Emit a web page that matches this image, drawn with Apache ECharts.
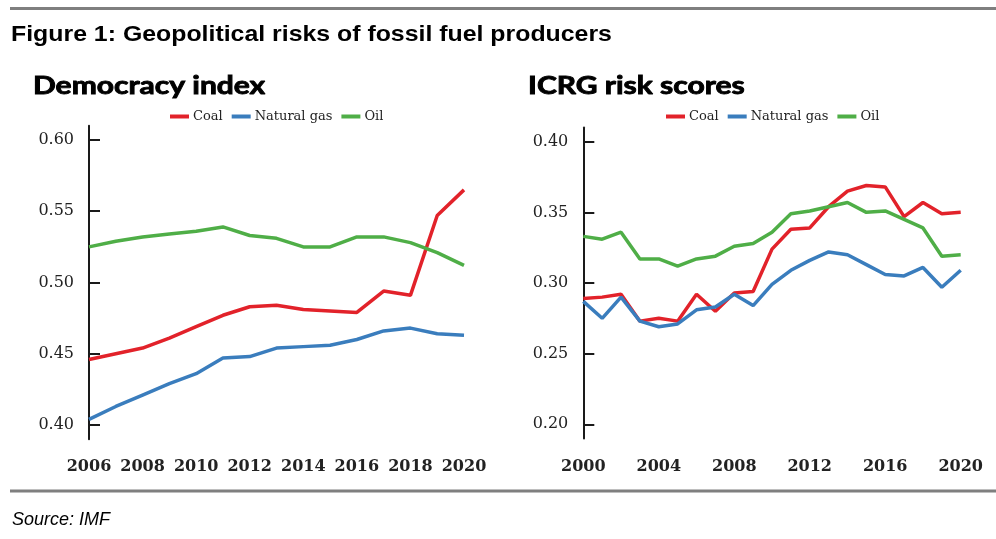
<!DOCTYPE html>
<html>
<head>
<meta charset="utf-8">
<script src="https://cdn.jsdelivr.net/npm/echarts@6/dist/echarts.min.js"></script>
<style>
html,body{margin:0;padding:0;background:#fff;}
#chart{width:996px;height:539px;}
</style>
</head>
<body>
<div id="chart"></div>
<script>
// ---- Democracy index (left) ----
var demYears = [2006,2007,2008,2009,2010,2011,2012,2013,2014,2015,2016,2017,2018,2019,2020];
var demCoal  = [0.446,0.450,0.454,0.461,0.469,0.477,0.483,0.484,0.481,0.480,0.479,0.494,0.491,0.547,0.565];
var demGas   = [0.404,0.413,0.421,0.429,0.436,0.447,0.448,0.454,0.455,0.456,0.460,0.466,0.468,0.464,0.463];
var demOil   = [0.525,0.529,0.532,0.534,0.536,0.539,0.533,0.531,0.525,0.525,0.532,0.532,0.528,0.521,0.512];
var demTicks = [0.40,0.45,0.50,0.55,0.60];

// ---- ICRG risk scores (right) ----
var icrgYears = [2000,2001,2002,2003,2004,2005,2006,2007,2008,2009,2010,2011,2012,2013,2014,2015,2016,2017,2018,2019,2020];
var icrgCoal  = [0.289,0.290,0.292,0.273,0.275,0.273,0.292,0.280,0.293,0.294,0.324,0.338,0.339,0.354,0.365,0.369,0.368,0.347,0.357,0.349,0.350];
var icrgGas   = [0.287,0.275,0.290,0.273,0.269,0.271,0.281,0.283,0.292,0.284,0.299,0.309,0.316,0.322,0.320,0.313,0.306,0.305,0.311,0.297,0.309];
var icrgOil   = [0.333,0.331,0.336,0.317,0.317,0.312,0.317,0.319,0.326,0.328,0.336,0.349,0.351,0.354,0.357,0.350,0.351,0.345,0.339,0.319,0.320];
var icrgTicks = [0.20,0.25,0.30,0.35,0.40];

var seriesNames = ['Coal','Natural gas','Oil'];
var colors = ['#e2222a','#3a7dbd','#4fae47'];

function pairs(xs, ys){ return xs.map(function(x,i){ return [x, ys[i]]; }); }

var serifFont = 'DejaVu Serif';
var chart = echarts.init(document.getElementById('chart'), null, {renderer:'canvas'});

function yAxisDef(idx, min, max, ticks){
  return {
    type:'value', gridIndex: idx, min:min, max:max,
    axisLine:{show:true, lineStyle:{color:'#1a1a1a', width:2}},
    axisTick:{show:true, inside:true, length:11, lineStyle:{color:'#1a1a1a', width:2}, customValues: ticks},
    axisLabel:{show:true, margin:15, color:'#222', fontFamily:serifFont, fontSize:16,
      customValues: ticks, formatter:function(v){ return v.toFixed(2); }},
    splitLine:{show:false}
  };
}
function xAxisDef(idx, min, max, interval){
  return {
    type:'value', gridIndex: idx, min:min, max:max, interval:interval,
    axisLine:{show:false}, axisTick:{show:false}, splitLine:{show:false},
    axisLabel:{margin:20, color:'#222', fontFamily:serifFont, fontSize:16, fontWeight:'bold',
      formatter:function(v){ return String(v); }}
  };
}
function lineSeries(name, xi, data, color){
  return {name:name, type:'line', xAxisIndex:xi, yAxisIndex:xi, data:data, symbol:'none',
    lineStyle:{color:color, width:3.5}, itemStyle:{color:color}, animation:false};
}
function legendDef(left){
  return {left:left, top:105, data:seriesNames, icon:'rect', itemWidth:19, itemHeight:4, itemGap:9,
    textStyle:{fontFamily:serifFont, fontSize:13, color:'#222', padding:[0,0,0,-1]}, selectedMode:false};
}

var option = {
  backgroundColor:'#fff',
  animation:false,
  legend:[legendDef(165), legendDef(661)],
  grid:[
    {left:89, right:532, top:125.75, bottom:99.75},
    {left:583.3, right:35.3, top:127.6, bottom:100.6}
  ],
  xAxis:[xAxisDef(0,2006,2020,2), xAxisDef(1,2000,2020,4)],
  yAxis:[yAxisDef(0,0.39,0.61,demTicks), yAxisDef(1,0.19,0.41,icrgTicks)],
  series:[
    lineSeries('Coal',0,pairs(demYears,demCoal),colors[0]),
    lineSeries('Natural gas',0,pairs(demYears,demGas),colors[1]),
    lineSeries('Oil',0,pairs(demYears,demOil),colors[2]),
    lineSeries('Coal',1,pairs(icrgYears,icrgCoal),colors[0]),
    lineSeries('Natural gas',1,pairs(icrgYears,icrgGas),colors[1]),
    lineSeries('Oil',1,pairs(icrgYears,icrgOil),colors[2])
  ],
  graphic:[
    {type:'rect', shape:{x:10,y:7,width:986,height:3}, style:{fill:'#7f7f7f'}, silent:true},
    {type:'rect', shape:{x:10,y:489.5,width:986,height:3}, style:{fill:'#7f7f7f'}, silent:true},
    {type:'text', x:11, y:35, scaleX:1.13, style:{text:'Figure 1: Geopolitical risks of fossil fuel producers',
      font:'bold 22px "Liberation Sans", Arial, sans-serif', fill:'#000', verticalAlign:'middle'}},
    {type:'text', x:33, y:86, scaleX:1.2, style:{text:'Democracy index',
      font:'bold 25px Lato, "Open Sans", sans-serif', fill:'#000', stroke:'#000', lineWidth:0.9, verticalAlign:'middle'}},
    {type:'text', x:528, y:86, scaleX:1.2, style:{text:'ICRG risk scores',
      font:'bold 25px Lato, "Open Sans", sans-serif', fill:'#000', stroke:'#000', lineWidth:0.9, verticalAlign:'middle'}},
    {type:'text', x:12, y:520, style:{text:'Source: IMF',
      font:'italic 18px "Liberation Sans", Arial, sans-serif', fill:'#000', verticalAlign:'middle'}}
  ]
};
chart.setOption(option);
</script>
</body>
</html>
